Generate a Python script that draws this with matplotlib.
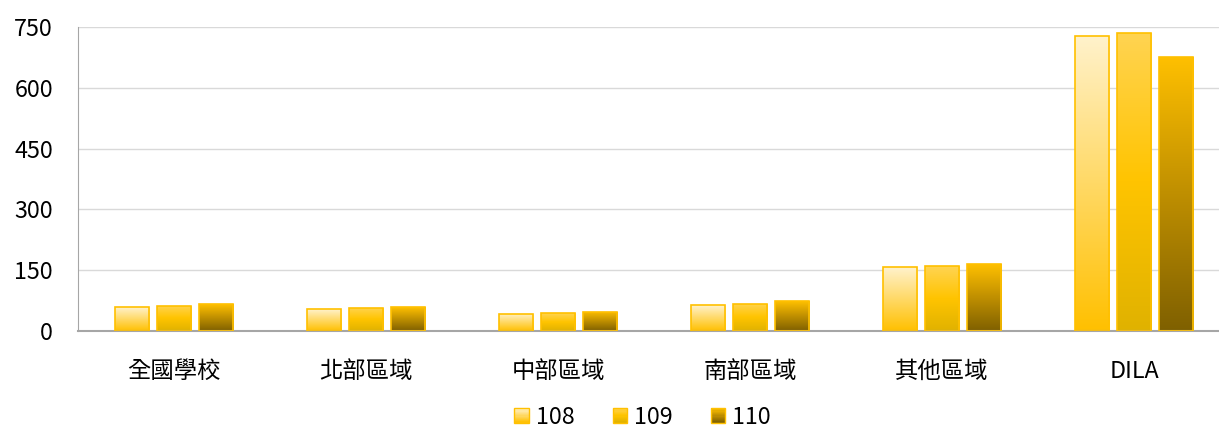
import numpy as np
import matplotlib
matplotlib.use("Agg")
import matplotlib.pyplot as plt
from matplotlib.colors import LinearSegmentedColormap
from matplotlib.legend_handler import HandlerBase
from matplotlib.patches import Rectangle

plt.rcParams['font.family'] = ['Noto Sans CJK TC', 'DejaVu Sans']

categories = ['全國學校', '北部區域', '中部區域', '南部區域', '其他區域', 'DILA']
years = ['108', '109', '110']
v108 = [59, 54, 42, 64, 157, 729]
v109 = [62, 57, 44, 67, 160, 736]
v110 = [66, 59, 47, 74, 165, 676]
yticks = [0, 150, 300, 450, 600, 750]

# gradient colours, bottom -> top
grads = {
    '108': ['#FFC000', '#FFD966', '#FFF2CC'],
    '109': ['#E0B200', '#FFC400', '#FFD452'],
    '110': ['#7F6000', '#BF8F00', '#FFC000'],
}
cmaps = {k: LinearSegmentedColormap.from_list(k, v) for k, v in grads.items()}
edge = '#FFC000'
fs = 16.8

W, H = 1219, 428
fig = plt.figure(figsize=(W / 100, H / 100), dpi=100)
ax = fig.add_axes([78 / W, 1 - 331 / H, (1219 - 78) / W, (331 - 27) / H])

xlim = (-0.5, -0.5 + (1219 - 78) / 192)
ylim = (0, 750)
x = np.arange(len(categories))
bw = 0.178
off = 0.219
grad_img = np.linspace(0, 1, 256).reshape(-1, 1)

for i, (yr, vals) in enumerate(zip(years, [v108, v109, v110])):
    pos = x + (i - 1) * off
    bars = ax.bar(pos, vals, width=bw, facecolor='none', edgecolor=edge,
                  linewidth=1.2, zorder=3)
    for b in bars:
        x0, w_, h_ = b.get_x(), b.get_width(), b.get_height()
        im = ax.imshow(grad_img, extent=[x0, x0 + w_, 0, h_], origin='lower',
                       aspect='auto', cmap=cmaps[yr], zorder=2)
        im.set_clip_path(b)

ax.set_xlim(*xlim)
ax.set_ylim(*ylim)
ax.set_yticks(yticks)
ax.set_yticklabels([str(t) for t in yticks], fontsize=fs)
ax.set_xticks(x)
ax.set_xticklabels(categories, fontsize=fs)
ax.tick_params(length=0)
ax.tick_params(axis='y', pad=18)
ax.tick_params(axis='x', pad=21)
ax.grid(axis='y', color='#D9D9D9', linewidth=1, zorder=0)
ax.set_axisbelow(True)
for s in ['top', 'right']:
    ax.spines[s].set_visible(False)
ax.spines['left'].set_color('#A6A6A6')
ax.spines['bottom'].set_color('#A6A6A6')
ax.spines['bottom'].set_linewidth(1.5)


class GradHandler(HandlerBase):
    def create_artists(self, legend, orig, xd, yd, width, height, fontsize, trans):
        cm = orig.cmap_
        side = 10.5
        x0 = -xd + (width - side) / 2
        y0 = -yd + (height - side) / 2
        arts = []
        n = 12
        for k in range(n):
            r = Rectangle((x0, y0 + side * k / n), side, side / n + 0.2,
                          facecolor=cm((k + 0.5) / n), edgecolor='none',
                          transform=trans)
            arts.append(r)
        arts.append(Rectangle((x0, y0), side, side, facecolor='none',
                              edgecolor=edge, linewidth=1, transform=trans))
        return arts


handles = []
for yr in years:
    p = Rectangle((0, 0), 1, 1)
    p.cmap_ = cmaps[yr]
    handles.append(p)

fig.legend(handles, years, loc='center', bbox_to_anchor=(642 / W, 1 - 417 / H),
           ncol=3, frameon=False, fontsize=fs,
           handler_map={Rectangle: GradHandler()},
           handlelength=0.7, handleheight=0.7, handletextpad=0.25,
           columnspacing=1.6)

fig.savefig('out.png', dpi=100)
